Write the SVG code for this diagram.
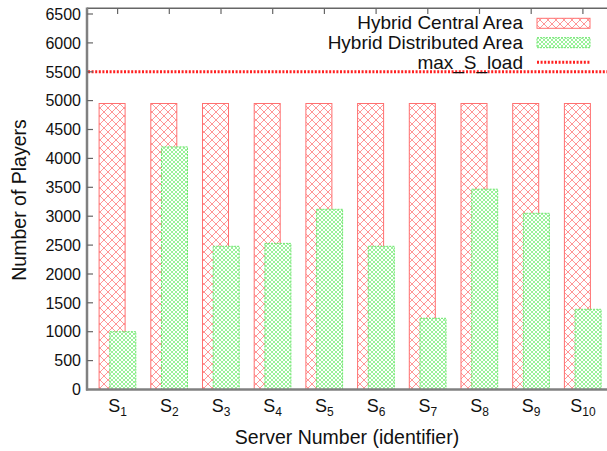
<svg xmlns="http://www.w3.org/2000/svg" width="607" height="451" viewBox="0 0 607 451">
<defs>
<pattern id="redhatch" patternUnits="userSpaceOnUse" width="8" height="8">
<rect width="8" height="8" fill="#fff"/>
<path d="M0,0 L8,8 M8,0 L0,8 M-1,7 L1,9 M7,-1 L9,1 M-1,1 L1,-1 M7,9 L9,7" stroke="#ff8a8a" stroke-width="0.9" fill="none"/>
</pattern>
<pattern id="greenhatch" patternUnits="userSpaceOnUse" width="4" height="4">
<rect width="4" height="4" fill="#fff"/>
<path d="M0,0 L4,4 M4,0 L0,4" stroke="#8ef08e" stroke-width="0.9" fill="none"/>
</pattern>
<style>
.red{fill:url(#redhatch);stroke:#ff7070;stroke-width:1}
.green{fill:url(#greenhatch);stroke:#6ee66e;stroke-width:1;stroke-dasharray:2,1}
.tick{font-family:"Liberation Sans",Arial,sans-serif;font-size:16px;fill:#111}
.leg{font-family:"Liberation Sans",Arial,sans-serif;font-size:19px;fill:#111}
.xl{font-family:"Liberation Sans",Arial,sans-serif;font-size:18px;fill:#111}
.title{font-family:"Liberation Sans",Arial,sans-serif;font-size:19.5px;fill:#111}
.sub{font-size:12px}
.maxl{stroke:#ff2020;stroke-width:3;stroke-dasharray:2,1.6;fill:none}
</style>
</defs>
<rect width="607" height="451" fill="#fff"/>

<g id="bars">
<g id="S1"><rect class="red" x="99.1" y="103.5" width="26" height="286"/><rect class="green" x="109.8" y="331.7" width="26" height="57.8"/></g>
<g id="S2"><rect class="red" x="150.8" y="103.5" width="26" height="286"/><rect class="green" x="161.5" y="146.9" width="26" height="242.6"/></g>
<g id="S3"><rect class="red" x="202.5" y="103.5" width="26" height="286"/><rect class="green" x="213.2" y="246.3" width="26" height="143.2"/></g>
<g id="S4"><rect class="red" x="254.2" y="103.5" width="26" height="286"/><rect class="green" x="264.9" y="243.4" width="26" height="146.1"/></g>
<g id="S5"><rect class="red" x="305.9" y="103.5" width="26" height="286"/><rect class="green" x="316.6" y="209.3" width="26" height="180.2"/></g>
<g id="S6"><rect class="red" x="357.6" y="103.5" width="26" height="286"/><rect class="green" x="368.3" y="246.3" width="26" height="143.2"/></g>
<g id="S7"><rect class="red" x="409.3" y="103.5" width="26" height="286"/><rect class="green" x="420" y="318.3" width="26" height="71.2"/></g>
<g id="S8"><rect class="red" x="461" y="103.5" width="26" height="286"/><rect class="green" x="471.7" y="189.2" width="26" height="200.3"/></g>
<g id="S9"><rect class="red" x="512.7" y="103.5" width="26" height="286"/><rect class="green" x="523.4" y="213.3" width="26" height="176.2"/></g>
<g id="S10"><rect class="red" x="564.4" y="103.5" width="26" height="286"/><rect class="green" x="575.1" y="309.3" width="26" height="80.2"/></g>
</g>

<g id="maxline">
<line class="maxl" x1="88" y1="71.8" x2="607" y2="71.8"/>
</g>

<g id="axes" stroke="#808080" fill="none">
<line x1="87" y1="8.3" x2="607" y2="8.3" stroke="#666" stroke-width="1.5"/>
<line x1="87" y1="7.5" x2="87" y2="390.5" stroke-width="2.5"/>
<line x1="86" y1="389.5" x2="607" y2="389.5" stroke-width="2.5"/>
<g stroke="#666" stroke-width="1.2">
<line x1="87" y1="14" x2="93" y2="14"/><line x1="87" y1="42.9" x2="93" y2="42.9"/><line x1="87" y1="71.8" x2="93" y2="71.8"/><line x1="87" y1="100.6" x2="93" y2="100.6"/><line x1="87" y1="129.5" x2="93" y2="129.5"/><line x1="87" y1="158.4" x2="93" y2="158.4"/><line x1="87" y1="187.3" x2="93" y2="187.3"/><line x1="87" y1="216.2" x2="93" y2="216.2"/><line x1="87" y1="245.1" x2="93" y2="245.1"/><line x1="87" y1="274" x2="93" y2="274"/><line x1="87" y1="302.8" x2="93" y2="302.8"/><line x1="87" y1="331.7" x2="93" y2="331.7"/><line x1="87" y1="360.6" x2="93" y2="360.6"/>
<line x1="117.6" y1="8" x2="117.6" y2="14"/><line x1="169.3" y1="8" x2="169.3" y2="14"/><line x1="221" y1="8" x2="221" y2="14"/><line x1="272.7" y1="8" x2="272.7" y2="14"/><line x1="324.4" y1="8" x2="324.4" y2="14"/><line x1="376.1" y1="8" x2="376.1" y2="14"/><line x1="427.8" y1="8" x2="427.8" y2="14"/><line x1="479.5" y1="8" x2="479.5" y2="14"/><line x1="531.2" y1="8" x2="531.2" y2="14"/><line x1="582.9" y1="8" x2="582.9" y2="14"/>
</g>
</g>

<g id="ylabels" class="tick" text-anchor="end">
<text x="81" y="19.7">6500</text><text x="81" y="48.6">6000</text><text x="81" y="77.5">5500</text><text x="81" y="106.3">5000</text><text x="81" y="135.2">4500</text><text x="81" y="164.1">4000</text><text x="81" y="193">3500</text><text x="81" y="221.9">3000</text><text x="81" y="250.8">2500</text><text x="81" y="279.7">2000</text><text x="81" y="308.5">1500</text><text x="81" y="337.4">1000</text><text x="81" y="366.3">500</text><text x="81" y="395.2">0</text>
</g>

<g id="xlabels" class="xl" text-anchor="middle">
<text x="117.6" y="412">S<tspan class="sub" dy="4">1</tspan></text>
<text x="169.3" y="412">S<tspan class="sub" dy="4">2</tspan></text>
<text x="221" y="412">S<tspan class="sub" dy="4">3</tspan></text>
<text x="272.7" y="412">S<tspan class="sub" dy="4">4</tspan></text>
<text x="324.4" y="412">S<tspan class="sub" dy="4">5</tspan></text>
<text x="376.1" y="412">S<tspan class="sub" dy="4">6</tspan></text>
<text x="427.8" y="412">S<tspan class="sub" dy="4">7</tspan></text>
<text x="479.5" y="412">S<tspan class="sub" dy="4">8</tspan></text>
<text x="531.2" y="412">S<tspan class="sub" dy="4">9</tspan></text>
<text x="582.9" y="412">S<tspan class="sub" dy="4">10</tspan></text>
</g>

<g id="titles" class="title" text-anchor="middle">
<text x="347" y="444">Server Number (identifier)</text>
<text transform="translate(26,200) rotate(-90)">Number of Players</text>
</g>

<g id="legend">
<g class="leg" text-anchor="end">
<text x="523" y="29">Hybrid Central Area</text>
<text x="523" y="49">Hybrid Distributed Area</text>
<text x="523" y="68.5">max_S_load</text>
</g>
<rect class="red" x="537" y="18.3" width="53" height="10"/>
<rect class="green" x="537" y="37.7" width="53" height="10"/>
<line class="maxl" x1="537" y1="62.3" x2="590" y2="62.3"/>
</g>
</svg>
